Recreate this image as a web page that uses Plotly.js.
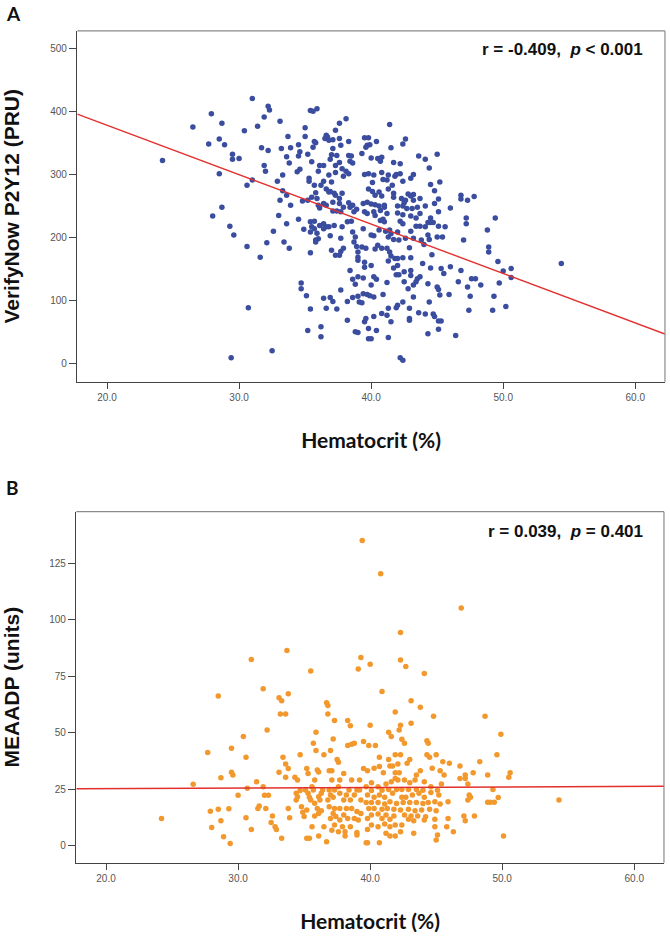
<!DOCTYPE html>
<html>
<head>
<meta charset="utf-8">
<script src="https://cdn.plot.ly/plotly-3.0.1.min.js"></script>
<style>html,body{margin:0;padding:0;background:#fff;}#chart{width:670px;height:938px;}</style>
</head>
<body>
<div id="chart"></div>
<script>
// ---------- Panel A: Hematocrit vs VerifyNow P2Y12 (PRU) ----------
const hctA = [
 24.2,26.5,27.9,27.7,28.5,28.7,28.9,28.5,28.0,28.7,
 31.0,32.2,32.3,31.9,31.4,30.4,33.1,29.5,29.5,30.0,
 31.7,32.2,31.9,32.0,33.7,33.2,33.9,33.6,33.8,33.3,
 32.9,30.6,31.0,34.5,34.6,34.5,34.4,34.6,35.0,35.0,
 35.4,35.6,35.9,35.2,35.3,35.3,35.5,35.7,35.8,35.6,
 36.1,36.4,35.7,36.2,36.6,36.5,36.7,36.8,37.1,37.3,
 37.6,38.1,37.6,37.7,37.1,37.0,37.4,36.9,37.3,37.6,
 38.3,38.3,38.5,38.4,38.6,37.8,38.1,38.3,37.9,37.3,
 37.0,36.0,36.8,36.4,37.2,37.3,37.6,37.8,37.6,37.9,
 38.3,38.4,38.6,38.7,38.9,37.7,37.4,37.1,36.6,36.8,
 36.9,35.8,35.9,35.5,35.2,34.8,36.4,36.6,36.1,37.1,
 36.0,33.6,33.1,33.3,33.0,33.9,33.6,34.5,34.9,32.6,
 33.4,33.8,32.1,31.6,30.6,29.3,29.6,35.4,35.7,35.5,
 35.7,35.4,35.9,36.1,36.4,36.4,36.6,36.0,35.8,35.8,
 35.4,36.8,36.9,37.2,37.0,37.3,37.6,37.7,37.9,37.8,
 37.7,38.2,38.5,38.6,38.8,38.7,38.9,39.0,39.0,39.0,
 38.4,38.6,38.8,39.0,37.7,34.7,34.7,35.1,36.4,36.9,
 37.1,36.6,35.4,37.4,38.6,39.0,39.1,38.2,38.2,35.2,
 36.2,36.2,38.8,39.0,30.7,32.5,29.4,
 41.4,39.5,39.8,40.4,39.7,39.9,39.6,39.3,41.5,42.4,
 42.6,40.0,40.5,40.7,40.8,41.7,42.2,43.6,44.1,45.0,
 44.4,39.8,39.5,40.2,40.8,41.3,41.9,42.2,41.8,43.2,
 43.0,42.4,40.9,41.2,41.3,41.6,40.1,39.8,40.1,40.3,
 40.6,40.8,41.7,41.7,42.8,43.0,43.2,42.6,42.3,42.5,
 43.2,43.7,44.5,44.8,45.2,45.1,44.8,44.1,43.5,43.1,
 42.7,42.4,42.0,41.0,40.6,40.3,40.0,39.7,39.4,39.5,
 39.7,40.2,40.3,40.7,41.0,41.2,42.0,42.4,43.0,43.4,
 43.7,45.1,44.5,46.0,46.8,46.8,47.3,47.8,40.7,40.9,
 42.2,42.4,43.4,43.7,44.1,44.3,44.5,44.7,45.1,45.6,
 45.4,45.0,44.3,44.4,43.8,43.2,43.0,42.6,42.1,41.7,
 42.0,41.4,41.5,41.1,40.6,40.0,40.2,41.0,41.3,39.4,
 47.2,47.2,47.0,48.8,49.4,48.9,48.9,49.6,50.6,50.0,
 50.6,49.7,49.3,50.2,49.2,47.4,47.5,48.3,47.9,47.6,
 47.3,46.8,46.6,46.0,45.5,45.3,44.5,44.6,43.9,43.7,
 43.5,43.4,43.2,44.3,45.0,45.1,45.2,45.9,44.4,43.0,
 42.5,42.8,43.2,42.4,42.0,41.9,41.3,41.2,40.8,42.9,
 42.9,42.9,43.6,44.1,44.7,44.8,45.1,45.3,45.1,44.3,
 46.4,41.5,40.4,39.8,39.8,40.0,41.3,42.2,42.4,39.5,
 39.6,40.2,39.3,39.9,40.2,39.7,39.4,40.0,40.4,41.2,
 40.9,41.9,42.1,42.5,43.0,42.0,41.7,41.8,41.3,41.5,
 41.4,41.2,40.8,40.5,40.3,40.0,39.5,39.6,39.3,42.4,
 42.9,43.0,42.0,44.0,40.2,39.4,39.5,54.4
];
const pruA = [
 322,375,396,348,356,381,347,301,234,248,
 420,408,402,391,376,369,384,332,324,325,
 342,338,314,305,360,341,342,328,318,299,
 289,283,291,347,336,329,304,308,374,360,
 401,400,404,332,294,289,320,352,350,343,
 314,314,283,283,362,357,359,354,355,370,
 381,388,357,346,341,331,330,324,314,319,
 352,330,329,321,318,309,305,301,297,303,
 288,305,299,289,270,267,262,270,254,248,
 255,248,251,241,245,241,242,256,277,272,
 273,271,262,264,259,258,254,251,247,242,
 251,267,259,274,235,251,222,229,213,210,
 193,183,192,169,186,218,204,225,226,217,
 214,209,207,219,222,214,217,198,196,193,
 176,217,203,219,180,172,172,178,183,217,
 199,225,226,209,201,193,186,177,169,164,
 148,134,126,138,117,128,119,108,104,105,
 99,88,87,87,105,107,98,99,69,53,
 59,43,51,50,89,21,10,
 379,358,358,352,346,347,343,333,342,348,
 356,326,325,321,327,319,317,329,324,332,
 310,301,300,299,303,299,300,301,297,300,
 294,289,292,291,277,283,287,277,273,267,
 272,266,270,264,269,266,268,259,262,255,
 259,262,284,274,288,261,254,250,248,246,
 246,250,250,251,250,252,253,256,254,241,
 238,241,235,243,248,238,239,236,234,231,
 238,241,231,247,267,261,259,265,227,229,
 226,222,218,218,217,224,224,224,218,217,
 201,201,204,197,196,199,210,199,196,197,
 209,212,206,210,212,204,203,225,201,214,
 231,222,196,212,231,185,177,162,151,147,
 137,128,107,91,85,85,107,125,135,135,
 122,148,130,154,143,151,152,173,159,138,
 135,130,125,127,122,118,109,110,98,140,
 130,119,106,98,93,89,88,77,80,88,
 72,69,81,79,79,75,68,68,55,48,
 45,67,53,56,40,40,42,10,6,67,
 72,75,97,108,106,110,111,125,134,129,
 110,141,141,146,148,156,152,167,163,171,
 177,183,183,188,182,156,161,183,185,168,
 184,168,167,189,138,136,153,159
];
// fitted line A: PRU = interceptA + slopeA * Hct
const interceptA = 534.2;
const slopeA = -7.82;
const statA = "r = -0.409,  <i>p</i> &lt; 0.001";

// ---------- Panel B: Hematocrit vs MEA ADP (units) ----------
const hctB = [
 24.2,26.6,27.7,27.9,28.0,28.5,28.7,28.7,28.9,28.5,
 33.7,31.0,35.5,39.3,39.1,31.9,33.1,33.3,33.8,33.2,
 33.6,32.2,36.7,36.8,36.8,37.3,38.3,38.5,35.9,30.4,
 29.5,30.6,35.7,37.2,35.9,37.0,38.3,38.6,38.8,39.5,
 34.7,36.5,37.5,37.6,33.4,33.6,33.8,33.1,33.6,29.5,
 29.6,34.3,34.5,35.2,35.3,36.0,36.1,35.8,36.9,37.1,
 37.1,38.0,37.7,38.6,39.2,39.5,31.4,30.7,31.9,32.0,
 32.3,30.0,31.6,31.5,32.1,29.3,32.6,32.5,32.8,32.9,
 30.6,31.0,33.3,33.8,33.9,34.4,34.5,34.4,34.7,35.1,
 35.3,34.8,34.9,35.0,35.2,35.4,35.6,35.7,35.5,35.8,
 36.1,36.3,36.2,36.4,36.0,36.3,36.1,35.8,35.6,36.5,
 35.2,35.4,36.1,36.7,36.9,37.0,37.2,36.8,37.3,37.6,
 37.7,36.9,37.3,37.7,37.2,37.4,37.7,37.0,38.0,38.2,
 38.4,38.5,38.8,39.0,39.2,39.3,38.2,38.6,39.0,39.3,
 38.0,38.3,38.8,39.1,37.9,38.5,38.1,39.0,37.3,37.6,
 38.1,39.0,39.8,37.1,29.4,
 40.8,46.9,42.3,42.3,42.7,40.0,44.1,40.9,43.1,43.8,
 41.9,44.8,48.7,40.0,43.1,42.3,42.2,49.9,41.4,41.6,
 42.4,42.6,44.3,44.4,39.9,40.4,49.6,44.3,44.5,45.0,
 41.9,42.3,40.7,41.4,43.0,42.8,45.5,46.0,48.3,46.8,
 41.5,41.7,42.1,40.7,40.3,44.7,45.3,43.8,43.5,45.6,
 41.9,42.2,41.0,39.8,47.8,47.2,50.6,50.5,48.9,46.8,
 47.2,47.4,45.4,44.6,44.1,43.4,43.0,42.6,42.1,41.9,
 41.6,41.2,40.6,40.1,39.7,49.3,42.9,42.4,42.0,43.5,
 44.0,45.1,40.1,40.9,41.4,39.8,40.3,40.7,41.1,41.7,
 42.4,42.7,43.2,43.7,44.1,44.6,45.2,45.9,47.5,47.6,
 48.9,49.1,49.4,49.7,47.4,39.7,40.1,40.6,41.1,41.5,
 42.0,42.5,43.0,43.5,44.0,44.4,44.9,45.3,39.9,40.3,
 40.9,41.3,41.8,42.3,42.9,43.4,43.9,44.5,45.0,40.1,
 40.6,41.2,41.8,42.6,43.1,43.6,44.2,39.8,40.9,41.5,
 42.9,43.3,44.1,44.9,45.9,47.1,47.9,47.2,40.1,40.6,
 41.1,41.5,41.9,42.4,44.9,45.8,39.8,41.2,41.5,41.9,
 42.3,43.3,45.1,46.3,45.0,40.7,39.7,50.1,39.4,54.3
];
const meaB = [
 12.1,27.2,41.2,15.2,8.1,16.1,30.1,11.1,4.0,66.2,
 86.4,82.4,77.3,83.3,78.2,69.4,65.5,64.2,67.2,58.3,
 58.3,51.2,63.3,62.0,58.3,55.4,55.4,53.1,50.2,48.3,
 43.1,39.1,45.3,47.2,42.1,42.1,44.3,44.9,45.3,46.1,
 40.2,40.2,38.2,36.9,39.1,36.2,34.2,32.5,30.3,32.5,
 31.3,30.3,29.1,34.2,32.0,33.5,32.6,29.1,33.2,33.2,
 29.1,32.0,29.1,29.1,29.1,34.2,28.3,25.4,26.1,22.3,
 22.3,22.3,17.6,16.5,16.5,16.4,13.1,10.3,8.4,7.2,
 12.4,7.2,3.3,16.5,12.4,23.2,21.7,20.2,24.4,24.7,
 23.2,17.3,14.8,12.9,15.8,21.4,26.1,24.7,20.2,18.8,
 21.7,23.2,20.2,24.7,16.5,15.5,14.3,13.1,8.4,8.4,
 3.3,3.3,4.3,1.8,24.7,22.4,21.4,20.2,24.7,26.1,
 23.2,17.3,16.5,16.5,14.3,12.9,11.4,12.1,20.2,22.4,
 24.7,20.2,22.4,24.7,24.7,20.2,16.5,16.5,15.1,14.3,
 13.6,12.1,12.1,11.4,8.4,8.4,6.2,5.8,9.2,6.2,
 4.3,4.7,1.3,6.9,1.0,
 120.3,105.2,94.3,82.2,79.3,80.3,76.2,68.2,64.2,61.3,
 59.2,57.3,57.3,53.3,54.2,53.3,51.2,49.3,50.2,48.3,
 47.1,45.3,46.4,45.3,44.3,44.3,40.3,40.3,39.1,40.3,
 40.3,40.3,39.1,38.2,38.2,36.5,37.2,36.5,37.2,35.3,
 35.3,35.3,36.2,35.0,34.3,34.3,33.2,33.2,31.3,31.3,
 32.3,32.3,32.3,33.2,32.3,31.3,32.3,30.3,31.3,29.8,
 29.8,27.3,27.3,26.1,28.3,29.1,27.9,29.1,29.1,29.8,
 28.3,27.3,26.1,27.9,26.1,24.9,24.9,24.9,24.9,24.9,
 24.6,24.6,24.4,24.6,24.9,22.4,21.4,22.4,21.4,23.2,
 21.4,21.4,22.4,23.2,21.4,23.5,22.4,19.5,22.4,21.4,
 19.2,19.2,19.2,21.3,20.2,19.1,19.1,19.1,18.5,19.5,
 18.7,19.1,19.1,19.1,18.7,19.1,19.5,18.5,16.5,16.5,
 16.1,16.5,16.1,15.8,16.1,15.5,15.8,16.1,15.5,13.6,
 14.0,13.6,13.1,13.6,13.1,13.1,12.8,12.1,12.1,11.7,
 11.7,11.1,11.4,11.7,12.1,13.1,13.1,11.1,9.2,8.4,
 9.6,8.4,9.2,9.2,8.4,8.4,7.2,5.5,4.3,4.3,
 6.2,5.5,4.7,6.2,2.5,1.3,1.3,4.3,135.1,20.2
];
const interceptB = 24.76;
const slopeB = 0.0247;
const statB = "r = 0.039,  <i>p</i> = 0.401";

// ---------- axes ----------
const xTicks = [20, 30, 40, 50, 60];
const yTicksA = [0, 100, 200, 300, 400, 500];
const yTicksB = [0, 25, 50, 75, 100, 125];
const xRange = [17.75, 62.25];

const lineX = xRange;
const traces = [
  {x: hctA, y: pruA, xaxis:'x', yaxis:'y', type:'scatter', mode:'markers',
   marker:{size:5.5, color:'#3a4d9f'}},
  {x: lineX, y: lineX.map(v => interceptA + slopeA*v), xaxis:'x', yaxis:'y', type:'scatter', mode:'lines',
   line:{color:'#e2302e', width:1.4}},
  {x: hctB, y: meaB, xaxis:'x2', yaxis:'y2', type:'scatter', mode:'markers',
   marker:{size:5.5, color:'#f2982c'}},
  {x: lineX, y: lineX.map(v => interceptB + slopeB*v), xaxis:'x2', yaxis:'y2', type:'scatter', mode:'lines',
   line:{color:'#e2302e', width:1.4}}
];

const tickFont = {family:'Liberation Sans, Arial, sans-serif', size:10, color:'#555'};
const xTitleFont = {family:'Lato, sans-serif', size:21, color:'#111', weight:700};
const yTitleFont = {family:'Liberation Sans, Arial, sans-serif', size:21, color:'#111', weight:700};

function xAxis(domain, anchor){
  return {domain:domain, anchor:anchor, range:xRange, tickvals:xTicks, tickformat:'.1f',
    ticks:'outside', ticklen:6, tickwidth:1, tickcolor:'#444',
    showline:true, linecolor:'#444', linewidth:1.5, mirror:false,
    showgrid:false, zeroline:false, tickfont:tickFont,
    title:{text:'Hematocrit (%)', font:xTitleFont, standoff:31}};
}
function yAxis(domain, anchor, range, ticks, title){
  return {domain:domain, anchor:anchor, range:range, tickvals:ticks,
    ticks:'outside', ticklen:7, tickwidth:1, tickcolor:'#444',
    showline:true, linecolor:'#444', linewidth:1.5, mirror:false,
    showgrid:false, zeroline:false, tickfont:tickFont,
    title:{text:title, font:yTitleFont, standoff:28}};
}

const boxLine = {color:'#8a8a8a', width:1.2};
const layout = {
  width:670, height:938,
  margin:{l:0, r:0, t:0, b:0},
  paper_bgcolor:'#ffffff', plot_bgcolor:'#ffffff',
  showlegend:false,
  font:{family:'Liberation Sans, Arial, sans-serif'},
  xaxis: xAxis([0.1154, 0.9925], 'y'),
  yaxis: yAxis([0.5931, 0.9670], 'x', [-28, 527], yTicksA, 'VerifyNow P2Y12 (PRU)'),
  xaxis2: xAxis([0.1139, 0.9910], 'y2'),
  yaxis2: yAxis([0.0803, 0.4545], 'x2', [-7.5, 147.8], yTicksB, 'MEAADP (units)'),
  shapes:[
    {type:'line', xref:'x domain', yref:'y domain', x0:0, x1:1, y0:1, y1:1, line:boxLine},
    {type:'line', xref:'x domain', yref:'y domain', x0:1, x1:1, y0:0, y1:1, line:boxLine},
    {type:'line', xref:'x2 domain', yref:'y2 domain', x0:0, x1:1, y0:1, y1:1, line:boxLine},
    {type:'line', xref:'x2 domain', yref:'y2 domain', x0:1, x1:1, y0:0, y1:1, line:boxLine}
  ],
  annotations:[
    {text:'A', xref:'paper', yref:'paper', x:0.006, y:0.9861, xanchor:'left', yanchor:'middle',
     showarrow:false, font:{family:'Lato, sans-serif', size:19, color:'#111', weight:700}},
    {text:'B', xref:'paper', yref:'paper', x:0.006, y:0.4808, xanchor:'left', yanchor:'middle',
     showarrow:false, font:{family:'Lato, sans-serif', size:19, color:'#111', weight:700}},
    {text:statA, xref:'paper', yref:'paper', x:0.9627, y:0.9467, xanchor:'right', yanchor:'middle',
     showarrow:false, font:{family:'Liberation Sans, Arial, sans-serif', size:17, color:'#111', weight:700}},
    {text:statB, xref:'paper', yref:'paper', x:0.9627, y:0.4339, xanchor:'right', yanchor:'middle',
     showarrow:false, font:{family:'Liberation Sans, Arial, sans-serif', size:17, color:'#111', weight:700}}
  ]
};

Plotly.newPlot('chart', traces, layout, {displayModeBar:false, staticPlot:true});
</script>
</body>
</html>
